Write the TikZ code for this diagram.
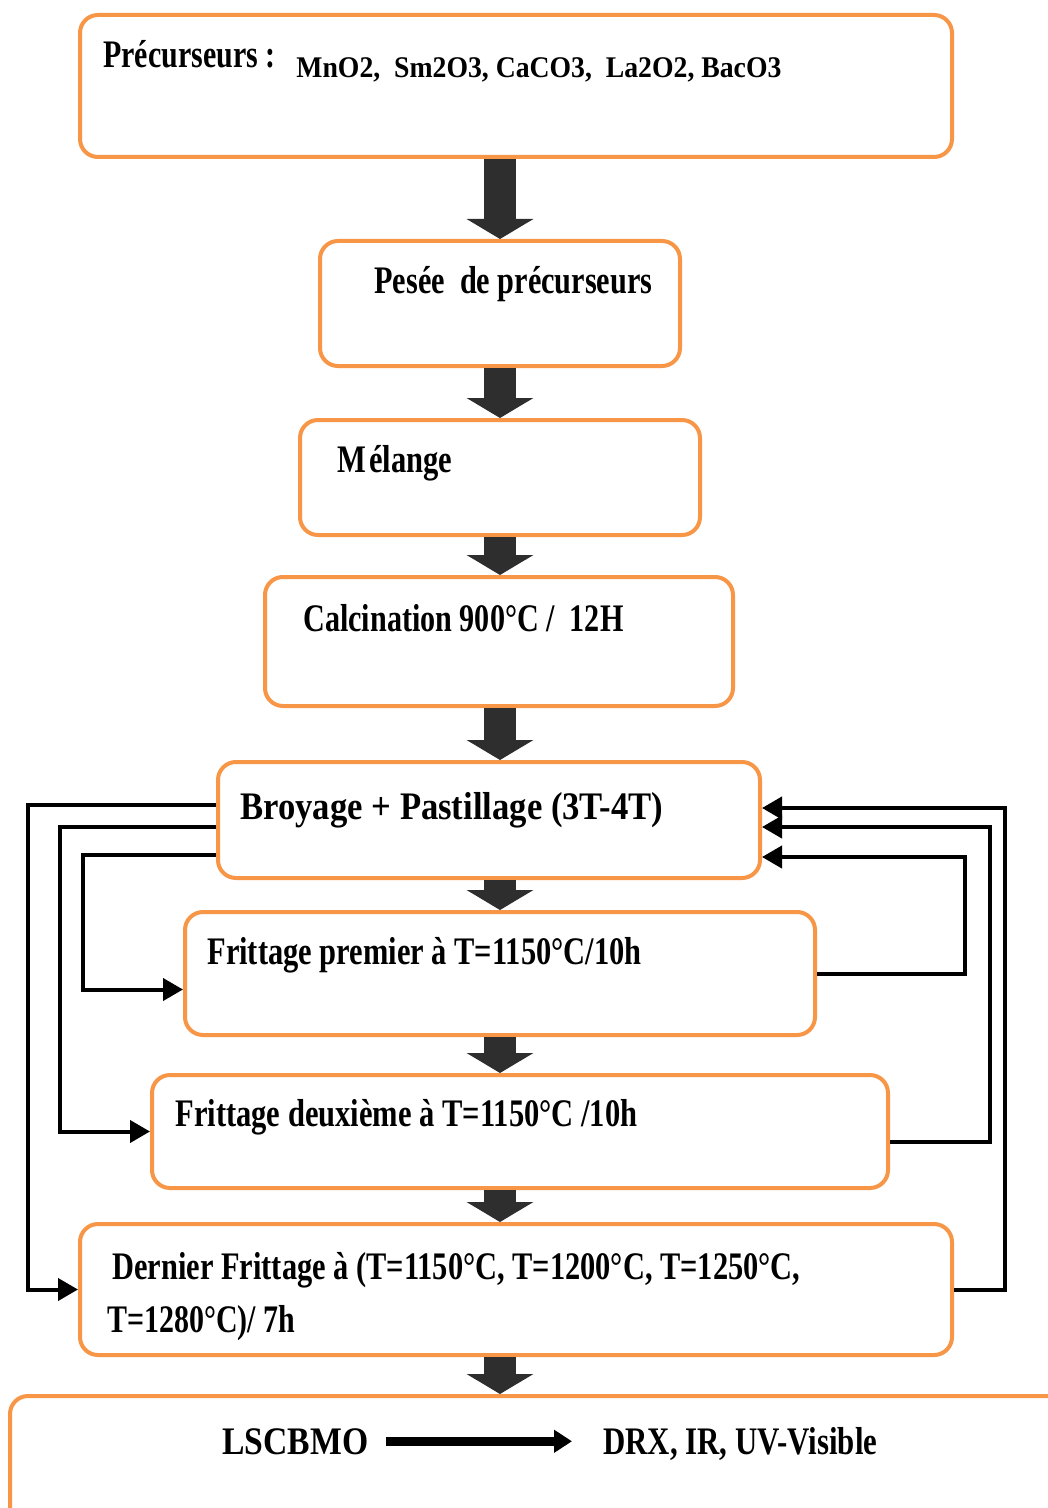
\documentclass[tikz,border=0pt]{standalone}
\usepackage{fontspec}
\setmainfont{Liberation Serif}
\usetikzlibrary{arrows.meta}
\definecolor{boxorange}{HTML}{F79646}
\definecolor{arrowgray}{HTML}{2E2E2E}
\newcommand\fitw[2]{\resizebox{#1}{\height}{#2}}
\tikzset{
  box/.style={draw=boxorange, line width=2pt, rounded corners=9pt, fill=white, inner sep=0pt},
  lbl/.style={anchor=base west, inner sep=0pt, font=\bfseries\fontsize{19.5}{22}\selectfont},
  smalllbl/.style={lbl, font=\bfseries\fontsize{15}{18}\selectfont},
  flow/.style={draw=arrowgray, line width=16pt, -{Triangle[width=33pt,length=10pt]}},
  fb/.style={draw=black, line width=2pt, -{Triangle[width=11pt,length=10pt]}},
  link/.style={draw=black, line width=4.5pt, -{Triangle[width=11pt,length=9pt]}},
}
\begin{document}
\begin{tikzpicture}[x=0.5pt,y=-0.5pt]
\useasboundingbox (0,0) rectangle (1048,1508);
\clip (0,0) rectangle (1048,1508);
\fill[white] (0,0) rectangle (1048,1508);
% boxes
\node[box, minimum width=436pt, minimum height=71pt]   (b1) at (516,86) {};
\node[box, minimum width=180pt, minimum height=62.5pt] (b2) at (500,303.5) {};
\node[box, minimum width=200pt, minimum height=57.5pt] (b3) at (500,477.5) {};
\node[box, minimum width=234pt, minimum height=64.5pt] (b4) at (499,641.5) {};
\node[box, minimum width=271pt, minimum height=58pt]   (b5) at (489,820) {};
\node[box, minimum width=315pt, minimum height=61.5pt] (b6) at (500,973.5) {};
\node[box, minimum width=368pt, minimum height=56.5pt] (b7) at (520,1131.5) {};
\node[box, minimum width=436pt, minimum height=65.5pt] (b8) at (516,1289.5) {};
\node[box, minimum width=540pt, minimum height=82pt]   (b9) at (550,1478) {};
% texts
\node[lbl] (t1a) at (103,68) {\fitw{86pt}{Précurseurs :}};
\node[smalllbl] (t1b) at (296,78) {\fitw{242.5pt}{MnO2,\ \ Sm2O3, CaCO3,\ \ La2O2, BacO3}};
\node[lbl] (t2) at (374,294) {\fitw{139pt}{Pesée\ \ de précurseurs}};
\node[lbl] (t3) at (337,472) {\fitw{57.5pt}{M\kern2pt élange}};
\node[lbl] (t4) at (303,631) {\fitw{160pt}{Calcination 900°C /\ \ 12H}};
\node[lbl] (t5) at (240,819) {\fitw{211.5pt}{Broyage + Pastillage (3T-4T)}};
\node[lbl] (t6) at (207,964) {\fitw{217pt}{Frittage premier à T=1150°C/10h}};
\node[lbl] (t7) at (175,1126) {\fitw{231pt}{Frittage deuxième à T=1150°C /10h}};
\node[lbl] (t8a) at (112,1279) {\fitw{344pt}{Dernier Frittage à (T=1150°C, T=1200°C, T=1250°C,}};
\node[lbl] (t8b) at (107,1332) {\fitw{94pt}{T=1280°C)/ 7h}};
\node[lbl] (t9a) at (222,1454) {\fitw{73pt}{LSCBMO}};
\node[lbl] (t9b) at (603,1454) {\fitw{137pt}{DRX, IR, UV-Visible}};
% main flow
\coordinate (ax) at (500,0);
\draw[flow] (b1.south -| ax) -- (b2.north -| ax);
\draw[flow] (b2.south -| ax) -- (b3.north -| ax);
\draw[flow] (b3.south -| ax) -- (b4.north -| ax);
\draw[flow] (b4.south -| ax) -- (b5.north -| ax);
\draw[flow] (b5.south -| ax) -- (b6.north -| ax);
\draw[flow] (b6.south -| ax) -- (b7.north -| ax);
\draw[flow] (b7.south -| ax) -- (b8.north -| ax);
\draw[flow] (b8.south -| ax) -- (b9.north -| ax);
% feedback loops
\coordinate (xL1) at (28,0);
\coordinate (xL2) at (60,0);
\coordinate (xL3) at (83,0);
\coordinate (xR1) at (1005,0);
\coordinate (xR2) at (990,0);
\coordinate (xR3) at (965,0);
\coordinate (l5a) at ([yshift=7.5pt]b5.west);
\coordinate (l5b) at ([yshift=-3.5pt]b5.west);
\coordinate (l5c) at ([yshift=-17.5pt]b5.west);
\coordinate (c6) at ([yshift=-8pt]b6.west);
\coordinate (r5a) at ([yshift=6pt]b5.east);
\coordinate (r5b) at ([yshift=-3.5pt]b5.east);
\coordinate (r5c) at ([yshift=-18.5pt]b5.east);
\coordinate (r7) at ([yshift=-5pt]b7.east);
\draw[fb] (l5a) -| (xL1 |- b8.west) -- (b8.west);
\draw[fb] (l5b) -| (xL2 |- b7.west) -- (b7.west);
\draw[fb] (l5c) -| (xL3 |- c6) -- (c6);
\draw[fb] (b8.east) -| (xR1 |- r5a) -- (r5a);
\draw[fb] (r7) -| (xR2 |- r5b) -- (r5b);
\draw[fb] (b6.east) -| (xR3 |- r5c) -- (r5c);
% result link
\coordinate (t9s) at ([xshift=8.5pt]t9a.east);
\coordinate (t9e) at ([xshift=-15.5pt]t9b.west);
\draw[link] (t9s) -- (t9e |- t9s);
\end{tikzpicture}
\end{document}
